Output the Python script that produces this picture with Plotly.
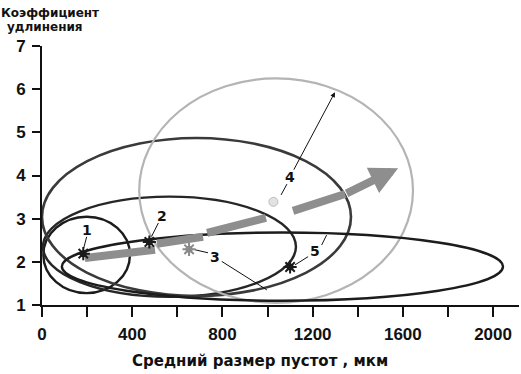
import plotly.graph_objects as go

# ---- data ----
# ellipses (centre / half-axes in data units)
ell_labels = ["1", "2", "3", "4", "5"]
ell_cx = [198, 565, 685, 1038, 1066]
ell_cy = [2.16, 2.35, 3.04, 3.65, 1.89]
ell_rx = [192, 561, 685, 607, 978]
ell_ry = [0.885, 1.16, 1.83, 2.60, 0.79]
ell_color = ["#1c1c1c", "#262626", "#3a3a3a", "#b4b4b4", "#1c1c1c"]
ell_width = [2.4, 2.4, 2.6, 2.2, 2.4]

# marked points
pt_x = [183, 476, 652, 1026, 1100]
pt_y = [2.19, 2.46, 2.29, 3.39, 1.88]

# number labels
lab_x = [198, 531, 767, 1100, 1211]
lab_y = [2.74, 3.06, 2.12, 3.96, 2.24]

# leader lines (x0, y0, x1, y1)
lead_x0 = [198, 516, 736, 797, 1060, 1180, 1240]
lead_y0 = [2.58, 2.90, 2.21, 2.01, 3.55, 2.12, 2.39]
lead_x1 = [183, 486, 678, 997, 1086, 1122, 1262]
lead_y1 = [2.28, 2.59, 2.28, 1.35, 3.80, 1.93, 2.62]
lead4_top = (1299, 5.93)
lead4_from = (1113, 4.10)

# trend arrow: dashed body segments + head
arr_seg_x0 = [190, 510, 732, 1113]
arr_seg_y0 = [2.09, 2.42, 2.67, 3.18]
arr_seg_x1 = [501, 714, 993, 1344]
arr_seg_y1 = [2.28, 2.58, 3.02, 3.57]
arr_tip = (1579, 4.17)

x_ticks = [0, 200, 400, 600, 800, 1000, 1200, 1400, 1600, 1800, 2000]
x_ticktext = ["0", "", "400", "", "800", "", "1200", "", "1600", "", "2000"]
y_ticks = [1, 2, 3, 4, 5, 6, 7]

FONT = "Liberation Sans, Arial, sans-serif"
WIDE = "DejaVu Sans, Liberation Sans, sans-serif"

fig = go.Figure()

shapes = []
for cx, cy, rx, ry, col, w in zip(ell_cx, ell_cy, ell_rx, ell_ry, ell_color, ell_width):
    shapes.append(dict(type="circle", xref="x", yref="y",
                       x0=cx - rx, x1=cx + rx, y0=cy - ry, y1=cy + ry,
                       line=dict(color=col, width=w), layer="below"))

# arrow body
for x0, y0, x1, y1 in zip(arr_seg_x0, arr_seg_y0, arr_seg_x1, arr_seg_y1):
    fig.add_trace(go.Scatter(x=[x0, x1], y=[y0, y1], mode="lines",
                             line=dict(color="#8e8e8e", width=8),
                             hoverinfo="skip", showlegend=False))

# leader lines
for x0, y0, x1, y1 in zip(lead_x0, lead_y0, lead_x1, lead_y1):
    fig.add_trace(go.Scatter(x=[x0, x1], y=[y0, y1], mode="lines",
                             line=dict(color="#111111", width=1),
                             hoverinfo="skip", showlegend=False))

# points: burst markers (circle core + asterisk rays)
burst_col = ["#1a1a1a", "#1a1a1a", "#8a8a8a", None, "#1a1a1a"]
bx = [x for x, c in zip(pt_x, burst_col) if c]
by = [y for y, c in zip(pt_y, burst_col) if c]
bc = [c for c in burst_col if c]
fig.add_trace(go.Scatter(x=bx, y=by, mode="markers",
                         marker=dict(symbol="circle", color=bc, size=7, line=dict(width=0)),
                         showlegend=False, hoverinfo="skip"))
fig.add_trace(go.Scatter(x=bx, y=by, mode="markers",
                         marker=dict(symbol="asterisk-open", size=11, color=bc,
                                     line=dict(color=bc, width=2)),
                         showlegend=False, hoverinfo="skip"))
fig.add_trace(go.Scatter(x=[pt_x[3]], y=[pt_y[3]], mode="markers",
                         marker=dict(symbol="circle", color="#e2e2e2", size=9,
                                     line=dict(color="#bdbdbd", width=1)),
                         showlegend=False, hoverinfo="skip"))

annotations = []
for t, x, y in zip(ell_labels, lab_x, lab_y):
    annotations.append(dict(x=x, y=y, xref="x", yref="y", text=t, showarrow=False,
                            font=dict(family=WIDE, size=14, color="#111111", weight="bold")))

# arrow head
annotations.append(dict(x=arr_tip[0], y=arr_tip[1], ax=arr_seg_x1[-1], ay=arr_seg_y1[-1],
                        xref="x", yref="y", axref="x", ayref="y", text="",
                        showarrow=True, arrowhead=2, arrowwidth=8, arrowsize=0.7,
                        arrowcolor="#8e8e8e"))
# leader 4 upper part with small head
annotations.append(dict(x=lead4_top[0], y=lead4_top[1], ax=lead4_from[0], ay=lead4_from[1],
                        xref="x", yref="y", axref="x", ayref="y", text="",
                        showarrow=True, arrowhead=2, arrowwidth=1, arrowsize=1,
                        arrowcolor="#111111"))

annotations.append(dict(x=0.0178, y=1.126, xref="paper", yref="paper",
                        text="Коэффициент", showarrow=False,
                        xanchor="center", yanchor="middle",
                        font=dict(family=WIDE, size=12, color="#111111", weight="bold")))
annotations.append(dict(x=0.0063, y=1.072, xref="paper", yref="paper",
                        text="удлинения", showarrow=False,
                        xanchor="center", yanchor="middle",
                        font=dict(family=WIDE, size=12, color="#111111", weight="bold")))
annotations.append(dict(x=0.457, y=-0.217, xref="paper", yref="paper",
                        text="Средний размер пустот , мкм", showarrow=False,
                        xanchor="center", yanchor="middle",
                        font=dict(family=WIDE, size=15, color="#111111", weight="bold")))

fig.update_layout(
    width=521, height=374,
    margin=dict(l=42, r=2, t=46, b=69),
    plot_bgcolor="white", paper_bgcolor="white",
    shapes=shapes, annotations=annotations,
    showlegend=False,
    xaxis=dict(range=[0, 2115], showgrid=False, zeroline=False, automargin=False,
               showline=True, linecolor="#111111", linewidth=2,
               ticks="outside", ticklen=10, tickwidth=2, tickcolor="#111111",
               tickvals=x_ticks, ticktext=x_ticktext, ticklabelstandoff=3,
               tickfont=dict(family=FONT, size=17, color="#111111", weight="bold")),
    yaxis=dict(range=[1, 7], showgrid=False, zeroline=False, automargin=False,
               showline=True, linecolor="#111111", linewidth=2,
               ticks="outside", ticklen=8, tickwidth=2, tickcolor="#111111",
               tickvals=y_ticks, ticklabelstandoff=3,
               tickfont=dict(family=FONT, size=17, color="#111111", weight="bold")),
)

fig.write_html("out.html", config={"displayModeBar": False},
               post_script="document.body.style.margin='0px';document.body.style.padding='0px';")
